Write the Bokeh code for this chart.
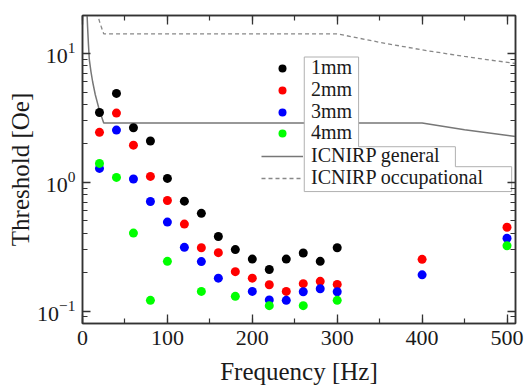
from bokeh.plotting import figure
from bokeh.models import (LinearAxis, LogAxis, Range1d, SingleIntervalTicker, LogTicker,
                          Legend, LegendItem, CustomJSTickFormatter)
from bokeh.embed import file_html
from bokeh.resources import INLINE

# ---- data ----
freq_1mm = [20, 40, 60, 80, 100, 120, 140, 160, 180, 200, 220, 240, 260, 280, 300]
thr_1mm = [3.48, 4.89, 2.65, 2.09, 1.07, 0.713, 0.573, 0.379, 0.300, 0.253, 0.210, 0.253, 0.282, 0.243, 0.310]

freq_2mm = [20, 40, 60, 80, 100, 120, 140, 160, 180, 200, 220, 240, 260, 280, 300, 400, 500]
thr_2mm = [2.44, 3.44, 1.94, 1.11, 0.721, 0.473, 0.310, 0.284, 0.202, 0.180, 0.160, 0.142, 0.163, 0.170, 0.161, 0.252, 0.447]

freq_3mm = [20, 40, 60, 80, 100, 120, 140, 160, 200, 220, 240, 260, 280, 300, 400, 500]
thr_3mm = [1.28, 2.54, 1.06, 0.708, 0.490, 0.312, 0.242, 0.180, 0.142, 0.122, 0.121, 0.141, 0.149, 0.141, 0.191, 0.367]

freq_4mm = [20, 40, 60, 80, 100, 140, 180, 220, 260, 300, 500]
thr_4mm = [1.40, 1.09, 0.403, 0.121, 0.243, 0.142, 0.130, 0.110, 0.110, 0.121, 0.321]

icnirp_gen_f = [5.0, 6, 7, 8, 10, 12, 15, 20, 25, 400, 450, 510]
icnirp_gen_v = [23.0, 16.0, 11.76, 9.0, 7.2, 6.0, 4.8, 3.6, 2.88, 2.88, 2.56, 2.26]

icnirp_occ_f = [17, 20, 22.5, 25, 300, 350, 400, 450, 510]
icnirp_occ_v = [20.9, 17.75, 15.8, 14.2, 14.2, 12.2, 10.65, 9.47, 8.35]

series_labels = ["1mm", "2mm", "3mm", "4mm", "ICNIRP general", "ICNIRP occupational"]

# ---- layout / style constants ----
FONT = "Liberation Serif"
TXT = "#1a1a1a"
AX = "#333333"
legend_box_x = [261.2, 325.2, 325.2, 439.2, 439.2, 505.5, 505.5, 261.2]
legend_box_y = [9.38, 9.38, 1.886, 1.886, 1.32, 1.32, 0.846, 0.846]
legend_item_y = [244, 222, 200, 179, 156, 134]   # screen offsets from frame bottom

p = figure(width=526, height=387,
           x_range=Range1d(0, 510), y_range=Range1d(0.08, 19.7),
           y_axis_type="log", output_backend="svg", toolbar_location=None,
           min_border_left=82, min_border_right=11, min_border_top=15, min_border_bottom=63)
p.grid.visible = False
p.outline_line_color = AX
p.outline_line_width = 1.5
p.background_fill_color = "white"
p.border_fill_color = "white"

# guideline curves
r_gen = p.line(icnirp_gen_f, icnirp_gen_v, line_color="#777777", line_width=1.5)
r_occ = p.line(icnirp_occ_f, icnirp_occ_v, line_color="#888888", line_width=1.3, line_dash="4 3")

# legend background box
p.patch(legend_box_x, legend_box_y, fill_color="white", line_color="#b0b0b0", line_width=1)

# data points
r1 = p.scatter(freq_1mm, thr_1mm, size=9, fill_color="#000000", line_color=None)
r2 = p.scatter(freq_2mm, thr_2mm, size=9, fill_color="#ff0000", line_color=None)
r3 = p.scatter(freq_3mm, thr_3mm, size=9, fill_color="#0000ff", line_color=None)
r4 = p.scatter(freq_4mm, thr_4mm, size=9, fill_color="#00ff00", line_color=None)

# axes
def style_axis(ax, tick_in, minor_in):
    ax.axis_line_color = AX
    ax.axis_line_width = 1.5
    ax.major_tick_line_color = AX
    ax.minor_tick_line_color = AX
    ax.major_tick_line_width = 1.3
    ax.minor_tick_line_width = 1.2
    ax.major_tick_in = tick_in
    ax.major_tick_out = 0
    ax.minor_tick_in = minor_in
    ax.minor_tick_out = 0
    ax.major_label_text_font = FONT
    ax.major_label_text_color = TXT
    ax.axis_label_text_font = FONT
    ax.axis_label_text_font_style = "normal"
    ax.axis_label_text_color = TXT

xa = p.xaxis[0]
xa.ticker = SingleIntervalTicker(interval=100, num_minor_ticks=2)
style_axis(xa, 9, 5)
xa.major_label_text_font_size = "22px"
xa.major_label_standoff = 7
xa.axis_label = "Frequency [Hz]"
xa.axis_label_text_font_size = "25px"
xa.axis_label_standoff = 10

ya = p.yaxis[0]
ya.ticker = LogTicker(num_minor_ticks=10)
style_axis(ya, 8, 5)
ya.major_label_text_font_size = "22px"
ya.major_label_standoff = 7
ya.axis_label = "Threshold [Oe]"
ya.axis_label_text_font_size = "25px"
ya.axis_label_standoff = 0

blank = CustomJSTickFormatter(code="return '';")

top = LinearAxis(ticker=SingleIntervalTicker(interval=100, num_minor_ticks=2), formatter=blank)
style_axis(top, 9, 5)
top.major_label_standoff = 0
top.major_label_text_font_size = "1px"
top.axis_label_standoff = 0
p.add_layout(top, "above")

right = LogAxis(ticker=LogTicker(num_minor_ticks=10), formatter=blank)
style_axis(right, 8, 5)
right.major_label_standoff = 0
right.major_label_text_font_size = "1px"
right.axis_label_standoff = 0
p.add_layout(right, "right")

# one legend per entry, so that the row spacing can match the reference
for lab, rend, yy in zip(series_labels, [r1, r2, r3, r4, r_gen, r_occ], legend_item_y):
    lg = Legend(items=[LegendItem(label=lab, renderers=[rend])], location=(179, yy))
    lg.label_text_font = FONT
    lg.label_text_font_size = "20px"
    lg.label_text_color = TXT
    lg.glyph_width = 42
    lg.glyph_height = 20
    lg.label_height = 20
    lg.label_standoff = 8
    lg.spacing = 0
    lg.padding = 0
    lg.margin = 0
    lg.background_fill_alpha = 0
    lg.border_line_alpha = 0
    p.add_layout(lg)

open("out.html", "w").write(file_html(p, INLINE))
